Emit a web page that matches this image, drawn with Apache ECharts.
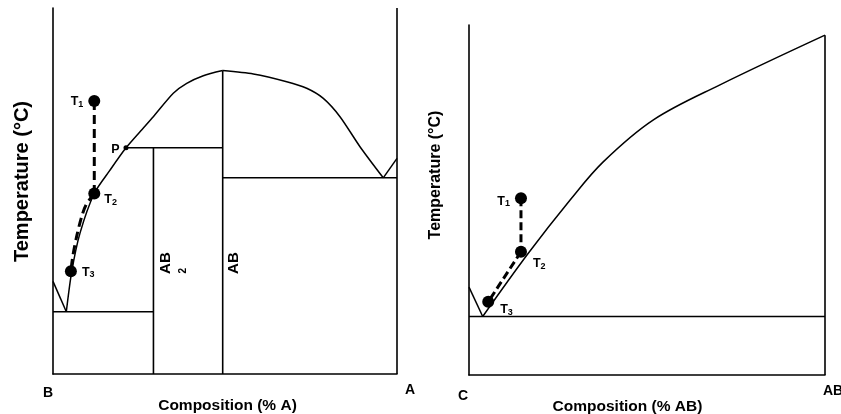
<!DOCTYPE html>
<html><head><meta charset="utf-8">
<script src="https://cdn.jsdelivr.net/npm/echarts@6/dist/echarts.min.js"></script>
<style>html,body{margin:0;padding:0;background:#fff}#c{width:841px;height:414px}</style>
</head><body><div id="c"></div>
<script>
// ---------- Left diagram: B – A (composition % A, relative temperature) ----------
const leftEutecticArm = [[0, 25.3], [3.87, 17.0]];
const leftLiquidusB = [[3.87, 17.0], [5.44, 27.95], [7.85, 38.5], [12.06, 49.45], [16.57, 55.7], [21.22, 61.8],
  [25.29, 66.2], [29.16, 70.3], [34.97, 76.7], [38.87, 79.4], [43.69, 81.5], [49.33, 82.9]];
const leftLiquidusA = [[49.33, 82.9], [58.23, 81.97], [67.94, 79.86], [73.75, 78.06], [78.58, 75.3],
  [83.43, 70.3], [89.24, 62.1], [96.0, 53.6]];
const leftRightArm = [[96.0, 53.6], [100, 58.9]];
const leftPhaseLines = [
  [[0, 17.0], [29.2, 17.0]],
  [[29.2, 0], [29.2, 61.8]],
  [[21.22, 61.8], [49.33, 61.8]],
  [[49.33, 0], [49.33, 82.9]],
  [[49.33, 53.6], [100, 53.6]],
  [[100, 0], [100, 100]]
];
const leftCoolingVertical = [[12.0, 74.6], [12.0, 49.3]];
const leftCoolingAlong = [[12.0, 49.3], [9.59, 46.2], [8.34, 43.0], [6.98, 38.0], [5.81, 32.5], [5.2, 28.1]];
const leftPoints = [[12.0, 74.6], [12.0, 49.3], [5.2, 28.1]];
const peritecticPoint = [21.22, 61.8];
const compoundLabelText = ['AB', '2', 'AB'];
const compoundLabelAt = [[32.7, 30.3], [37.8, 28.2], [52.5, 30.3]];

// ---------- Right diagram: C – AB (composition % AB) ----------
const rightEutecticArm = [[0, 25.1], [3.85, 16.7]];
const rightLiquidus = [[3.85, 16.7], [16.6, 34.7], [28.4, 50.0], [37.7, 60.9], [51.8, 72.9], [70.5, 82.9], [100, 97.1]];
const rightPhaseLines = [
  [[0, 16.7], [100, 16.7]],
  [[100, 0], [100, 97.1]]
];
const rightCoolingVertical = [[14.6, 50.5], [14.6, 35.2]];
const rightCoolingAlong = [[14.6, 35.2], [5.4, 20.9]];
const rightPoints = [[14.6, 50.5], [14.6, 35.2], [5.4, 20.9]];

const subscripts = ['1', '2', '3'];
const axisTitles = ['Composition (% A)', 'Composition (% AB)', 'Temperature (°C)'];
const endLabels = [['B', 'A'], ['C', 'AB']];

// ---------- build ----------
const FONT = '"Liberation Sans", Arial, sans-serif';
const K = '#000';
const chart = echarts.init(document.getElementById('c'), null, { renderer: 'canvas' });

function lineSeries(data, gi, opts) {
  return Object.assign({
    type: 'line', xAxisIndex: gi, yAxisIndex: gi, data: data, symbol: 'none',
    lineStyle: { color: K, width: 1.5 }, silent: true, animation: false, z: 3
  }, opts || {});
}
const tRich = {
  t: { fontSize: 12.5, fontWeight: 'bold', color: K, fontFamily: FONT, lineHeight: 14 },
  s: { fontSize: 9, fontWeight: 'bold', color: K, fontFamily: FONT, lineHeight: 9, verticalAlign: 'bottom' }
};
function pointSeries(points, gi, labelCfg) {
  return {
    type: 'scatter', xAxisIndex: gi, yAxisIndex: gi, symbol: 'circle', symbolSize: 12,
    itemStyle: { color: K, opacity: 1 }, silent: true, animation: false, z: 6,
    data: points.map((p, i) => ({
      value: p,
      label: Object.assign({ show: true, formatter: '{t|T}{s|' + subscripts[i] + '}', rich: tRich }, labelCfg[i])
    }))
  };
}

const series = [];
// left
series.push(lineSeries(leftEutecticArm, 0));
series.push(lineSeries(leftLiquidusB, 0, { smooth: 0.25 }));
series.push(lineSeries(leftLiquidusA, 0, { smooth: 0.25 }));
series.push(lineSeries(leftRightArm, 0));
leftPhaseLines.forEach(seg => series.push(lineSeries(seg, 0, { lineStyle: { color: K, width: 1.6 } })));
series.push(lineSeries(leftCoolingVertical, 0, { lineStyle: { color: K, width: 3, type: [9, 5] }, z: 4 }));
series.push(lineSeries(leftCoolingAlong, 0, { smooth: 0.3, lineStyle: { color: K, width: 3, type: [9, 5] }, z: 4 }));
series.push(pointSeries(leftPoints, 0, [
  { position: 'left', distance: 5, offset: [0, 1] },
  { position: 'right', distance: 4, offset: [0, 6] },
  { position: 'right', distance: 5, offset: [0, 1] }
]));
series.push({
  type: 'scatter', xAxisIndex: 0, yAxisIndex: 0, symbol: 'circle', symbolSize: 5,
  itemStyle: { color: K, opacity: 1 }, silent: true, animation: false, z: 6,
  data: [{ value: peritecticPoint }],
  label: { show: true, formatter: 'P', position: 'left', distance: 4, offset: [0, 2],
    fontSize: 12.5, fontWeight: 'bold', color: K, fontFamily: FONT }
});
series.push({
  type: 'scatter', xAxisIndex: 0, yAxisIndex: 0, symbol: 'circle', symbolSize: 1,
  itemStyle: { color: 'transparent', opacity: 1 }, silent: true, animation: false, z: 6,
  data: compoundLabelAt.map((p, i) => ({
    value: p,
    label: { show: true, position: 'inside', rotate: 90, formatter: compoundLabelText[i],
      fontSize: compoundLabelText[i] === '2' ? 10 : 15, fontWeight: 'bold', color: K, fontFamily: FONT }
  }))
});
// right
series.push(lineSeries(rightEutecticArm, 1));
series.push(lineSeries(rightLiquidus, 1, { smooth: 0.35 }));
rightPhaseLines.forEach(seg => series.push(lineSeries(seg, 1, { lineStyle: { color: K, width: 1.6 } })));
series.push(lineSeries(rightCoolingVertical, 1, { lineStyle: { color: K, width: 3, type: [8, 4] }, z: 4 }));
series.push(lineSeries(rightCoolingAlong, 1, { lineStyle: { color: K, width: 3, type: [8, 4] }, z: 4 }));
series.push(pointSeries(rightPoints, 1, [
  { position: 'left', distance: 5, offset: [0, 3] },
  { position: 'right', distance: 6, offset: [0, 12] },
  { position: 'right', distance: 6, offset: [0, 8] }
]));

function xAxis(gi, name, namePad, lo, hi, loPad, hiPad) {
  return {
    type: 'value', gridIndex: gi, min: 0, max: 100, interval: 100,
    name: name, nameLocation: 'middle', nameGap: 24, nameMoveOverlap: false,
    nameTextStyle: { fontSize: 15.5, fontWeight: 'bold', color: K, fontFamily: FONT, padding: namePad },
    axisLine: { show: true, lineStyle: { color: K, width: 1.6 } },
    axisTick: { show: false }, splitLine: { show: false },
    axisLabel: {
      show: true, margin: 8, showMinLabel: true, showMaxLabel: true, hideOverlap: false,
      formatter: v => v === 0 ? '{lo|' + lo + '}' : '{hi|' + hi + '}',
      rich: {
        lo: { fontSize: 14, fontWeight: 'bold', color: K, fontFamily: FONT, padding: loPad },
        hi: { fontSize: 14, fontWeight: 'bold', color: K, fontFamily: FONT, padding: hiPad }
      }
    }
  };
}
function yAxis(gi, fontSize, gap, pad) {
  return {
    type: 'value', gridIndex: gi, min: 0, max: 100,
    name: axisTitles[2], nameLocation: 'middle', nameRotate: 90, nameGap: gap, nameMoveOverlap: false,
    nameTextStyle: { fontSize: fontSize, fontWeight: 'bold', color: K, fontFamily: FONT, padding: pad },
    axisLine: { show: true, lineStyle: { color: K, width: 1.6 } },
    axisTick: { show: false }, splitLine: { show: false }, axisLabel: { show: false }
  };
}

chart.setOption({
  animation: false,
  backgroundColor: '#fff',
  grid: [
    { left: 53, top: 8, width: 344, height: 366, containLabel: false, outerBoundsMode: 'none' },
    { left: 469, top: 25, width: 356, height: 350, containLabel: false, outerBoundsMode: 'none' }
  ],
  xAxis: [
    xAxis(0, axisTitles[0], [0, 0, 0, 5], endLabels[0][0], endLabels[0][1], [4, 10, 0, 0], [1, 0, 0, 26]),
    xAxis(1, axisTitles[1], [0, 39, 0, 0], endLabels[1][0], endLabels[1][1], [6, 12, 0, 0], [1, 0, 0, 16])
  ],
  yAxis: [
    yAxis(0, 20, 21, [0, 0, 0, 19]),
    yAxis(1, 16, 25, [0, 0, 0, 50])
  ],
  series: series
});
</script></body></html>
